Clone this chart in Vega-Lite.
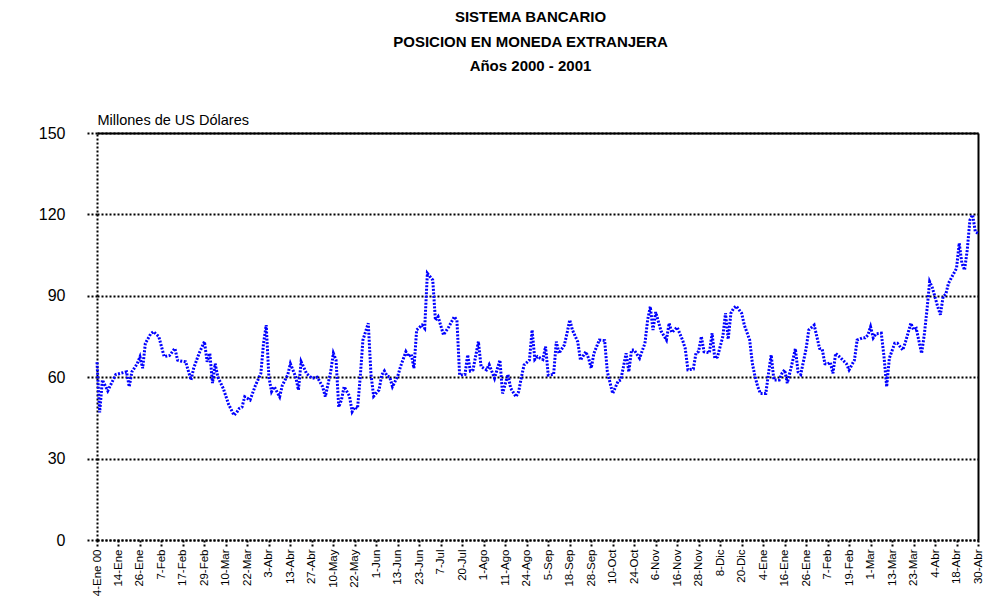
{
  "$schema": "https://vega.github.io/schema/vega-lite/v6.json",
  "autosize": {"type": "none"},
  "padding": {"left": 97, "top": 133, "right": 8, "bottom": 71},
  "width": 881,
  "height": 407,
  "background": "white",
  "config": {"view": {"stroke": null}, "font": "Liberation Sans"},
  "title": {
    "text": ["SISTEMA BANCARIO", "POSICION EN MONEDA EXTRANJERA", "Años 2000 - 2001"],
    "fontSize": 15,
    "fontWeight": "bold",
    "font": "Liberation Sans",
    "color": "black",
    "anchor": "middle",
    "frame": "group",
    "lineHeight": 24.5,
    "offset": 38,
    "dx": -7
  },
  "data": {"values": [
    {"d":0,"v":65.5},{"d":1,"v":47},{"d":2,"v":59},{"d":4,"v":55},{"d":5,"v":57},{"d":7,"v":61},{"d":9,"v":61.5},{"d":11,"v":62},{"d":12,"v":56.5},{"d":13,"v":62},{"d":15,"v":65},{"d":16,"v":67.5},{"d":17,"v":63.3},{"d":18,"v":72.5},{"d":20,"v":76},{"d":21,"v":76.8},{"d":23,"v":75},{"d":24,"v":71.3},{"d":25,"v":67.6},{"d":27,"v":68},{"d":29,"v":70.6},{"d":30,"v":66.3},{"d":31,"v":66},{"d":33,"v":65.7},{"d":35,"v":59},{"d":36,"v":63.3},{"d":38,"v":68.8},{"d":40,"v":73.1},{"d":41,"v":65.7},{"d":42,"v":68.8},{"d":43,"v":57.8},{"d":44,"v":65},{"d":45,"v":60},{"d":47,"v":55.9},{"d":49,"v":50},{"d":51,"v":46},{"d":52,"v":47},{"d":53,"v":48.5},{"d":54,"v":49},{"d":55,"v":52.8},{"d":57,"v":51.6},{"d":59,"v":57},{"d":61,"v":61.4},{"d":62,"v":72.5},{"d":63,"v":79.2},{"d":64,"v":60},{"d":65,"v":54.7},{"d":66,"v":56.5},{"d":68,"v":52.8},{"d":69,"v":57},{"d":71,"v":60.8},{"d":72,"v":65},{"d":74,"v":60},{"d":75,"v":55.3},{"d":76,"v":65.7},{"d":78,"v":61.4},{"d":80,"v":59.6},{"d":82,"v":60},{"d":84,"v":56.5},{"d":85,"v":52.8},{"d":87,"v":62},{"d":88,"v":68.8},{"d":89,"v":66.3},{"d":90,"v":49},{"d":91,"v":51.6},{"d":92,"v":56.5},{"d":94,"v":53},{"d":95,"v":47.3},{"d":96,"v":49},{"d":97,"v":48.5},{"d":98,"v":60},{"d":99,"v":73.7},{"d":101,"v":79.9},{"d":102,"v":61},{"d":103,"v":53},{"d":105,"v":55.3},{"d":106,"v":60.8},{"d":107,"v":62.3},{"d":108,"v":60.5},{"d":109,"v":60},{"d":110,"v":56.5},{"d":112,"v":60.5},{"d":113,"v":63.9},{"d":115,"v":69.4},{"d":116,"v":67.6},{"d":117,"v":68.5},{"d":118,"v":63.3},{"d":119,"v":77.4},{"d":121,"v":79.2},{"d":122,"v":78},{"d":123,"v":98.3},{"d":125,"v":95.8},{"d":126,"v":81},{"d":127,"v":82.3},{"d":129,"v":75.6},{"d":131,"v":78.6},{"d":133,"v":82.3},{"d":134,"v":81},{"d":135,"v":60.8},{"d":137,"v":61},{"d":138,"v":68.2},{"d":139,"v":62.3},{"d":140,"v":62.7},{"d":142,"v":73.1},{"d":143,"v":63.9},{"d":145,"v":62.7},{"d":146,"v":64.6},{"d":148,"v":59.6},{"d":150,"v":66.3},{"d":151,"v":54},{"d":153,"v":61},{"d":154,"v":56},{"d":156,"v":52.8},{"d":157,"v":54.7},{"d":158,"v":60},{"d":159,"v":64.5},{"d":161,"v":66.3},{"d":162,"v":77.4},{"d":163,"v":66.5},{"d":164,"v":67.6},{"d":166,"v":66.5},{"d":167,"v":71.3},{"d":168,"v":60.8},{"d":170,"v":61},{"d":171,"v":73.1},{"d":172,"v":68.8},{"d":174,"v":71.9},{"d":175,"v":76.2},{"d":176,"v":81.1},{"d":177,"v":77.4},{"d":179,"v":73},{"d":180,"v":66.3},{"d":182,"v":69.4},{"d":183,"v":67},{"d":184,"v":63.3},{"d":185,"v":68.8},{"d":187,"v":73.7},{"d":189,"v":73.5},{"d":190,"v":62},{"d":192,"v":54},{"d":194,"v":58.5},{"d":195,"v":59},{"d":197,"v":68.8},{"d":198,"v":62},{"d":199,"v":70},{"d":200,"v":70},{"d":202,"v":67},{"d":204,"v":72.5},{"d":205,"v":81.1},{"d":206,"v":86},{"d":207,"v":77.4},{"d":208,"v":84},{"d":210,"v":77},{"d":212,"v":73.7},{"d":213,"v":79.9},{"d":214,"v":76.5},{"d":216,"v":78.4},{"d":218,"v":73.7},{"d":219,"v":70.6},{"d":220,"v":62.7},{"d":222,"v":63},{"d":223,"v":68.8},{"d":224,"v":69.5},{"d":225,"v":75},{"d":226,"v":69.4},{"d":228,"v":69},{"d":229,"v":76.2},{"d":230,"v":67},{"d":231,"v":67.5},{"d":233,"v":75},{"d":234,"v":83.6},{"d":235,"v":74},{"d":236,"v":83.6},{"d":237,"v":85.4},{"d":238,"v":86.2},{"d":240,"v":83.6},{"d":241,"v":79.2},{"d":243,"v":73.7},{"d":244,"v":65},{"d":245,"v":60.2},{"d":246,"v":56.5},{"d":247,"v":54},{"d":249,"v":54},{"d":250,"v":61.4},{"d":251,"v":68.2},{"d":252,"v":59},{"d":254,"v":59},{"d":255,"v":61.4},{"d":256,"v":62.7},{"d":257,"v":57.8},{"d":259,"v":66},{"d":260,"v":70.5},{"d":261,"v":62},{"d":262,"v":61},{"d":264,"v":70.5},{"d":265,"v":77.4},{"d":267,"v":79.2},{"d":268,"v":75},{"d":269,"v":70.6},{"d":270,"v":70.3},{"d":271,"v":65},{"d":272,"v":64.8},{"d":273,"v":65.5},{"d":274,"v":61.4},{"d":275,"v":68.8},{"d":277,"v":67},{"d":279,"v":65},{"d":280,"v":62.7},{"d":282,"v":66.3},{"d":283,"v":73.7},{"d":285,"v":74.5},{"d":286,"v":74.5},{"d":287,"v":75.5},{"d":288,"v":78.6},{"d":289,"v":74.5},{"d":290,"v":76},{"d":292,"v":76.2},{"d":293,"v":67.6},{"d":294,"v":56.5},{"d":295,"v":67},{"d":297,"v":72.5},{"d":298,"v":72.5},{"d":300,"v":70},{"d":301,"v":73},{"d":303,"v":79.9},{"d":304,"v":77.5},{"d":305,"v":78},{"d":307,"v":68.8},{"d":308,"v":75.6},{"d":309,"v":84.8},{"d":310,"v":95.2},{"d":311,"v":93},{"d":313,"v":86},{"d":314,"v":83},{"d":315,"v":89.7},{"d":316,"v":90.5},{"d":317,"v":94.6},{"d":319,"v":98.3},{"d":320,"v":100.1},{"d":321,"v":109.4},{"d":322,"v":102},{"d":323,"v":99.5},{"d":324,"v":106.9},{"d":325,"v":118},{"d":326,"v":119.8},{"d":327,"v":113.6},{"d":328,"v":113}
  ]},
  "layer": [
    {
      "mark": {"type": "line", "color": "#0000FF", "strokeWidth": 3, "strokeDash": [2, 1.5], "interpolate": "linear"},
      "encoding": {
        "x": {
          "field": "d", "type": "quantitative",
          "scale": {"domain": [0, 328], "nice": false, "zero": false},
          "axis": {
            "orient": "bottom", "title": null, "grid": false,
            "values": [0,8,16,24,32,40,48,56,64,72,80,88,96,104,112,120,128,136,144,152,160,168,176,184,192,200,208,216,224,232,240,248,256,264,272,280,288,296,304,312,320,328],
            "labelExpr": "['4-Ene 00','14-Ene','26-Ene','7-Feb','17-Feb','29-Feb','10-Mar','22-Mar','3-Abr','13-Abr','27-Abr','10-May','22-May','1-Jun','13-Jun','23-Jun','7-Jul','20-Jul','1-Ago','11-Ago','24-Ago','5-Sep','18-Sep','28-Sep','10-Oct','24-Oct','6-Nov','16-Nov','28-Nov','8-Dic','20-Dic','4-Ene','16-Ene','26-Ene','7-Feb','19-Feb','1-Mar','13-Mar','23-Mar','4-Abr','18-Abr','30-Abr'][round(datum.value/8)]",
            "labelAngle": 270, "labelAlign": "right", "labelBaseline": "middle",
            "labelFontSize": 11.5, "labelColor": "black", "labelFont": "Liberation Sans",
            "labelOverlap": false, "labelBound": false, "labelFlush": false,
            "labelPadding": 3,
            "domain": true, "domainColor": "black", "domainWidth": 2, "domainDash": [2, 2],
            "ticks": true, "tickColor": "black", "tickWidth": 2, "tickSize": 6, "tickDash": [2, 2]
          }
        },
        "y": {
          "field": "v", "type": "quantitative",
          "scale": {"domain": [0, 150], "nice": false, "zero": true},
          "axis": {
            "orient": "left",
            "values": [0, 30, 60, 90, 120, 150],
            "title": "Millones de US Dólares",
            "titleAngle": 0, "titleAlign": "left", "titleBaseline": "alphabetic",
            "titleX": 0, "titleY": -9, "titleFontSize": 14.5, "titleFontWeight": "normal",
            "titleColor": "black", "titleFont": "Liberation Sans",
            "labelFontSize": 16, "labelColor": "black", "labelFont": "Liberation Sans",
            "labelPadding": 22,
            "grid": true, "gridColor": "black", "gridWidth": 2, "gridDash": [2, 2], "gridOpacity": 1,
            "domain": true, "domainColor": "black", "domainWidth": 2, "domainDash": [2, 2],
            "ticks": true, "tickColor": "black", "tickWidth": 2, "tickSize": 10, "tickDash": [2, 2]
          }
        }
      }
    },
    {
      "mark": {"type": "line", "strokeOpacity": 0},
      "encoding": {
        "x": {
          "field": "d", "type": "quantitative",
          "axis": {"orient": "top", "title": null, "labels": false, "ticks": false, "grid": false, "domain": true, "domainColor": "black", "domainWidth": 2}
        },
        "y": {
          "field": "v", "type": "quantitative",
          "axis": {"orient": "right", "title": null, "labels": false, "ticks": false, "grid": false, "domain": true, "domainColor": "black", "domainWidth": 2}
        }
      }
    }
  ],
  "resolve": {"axis": {"x": "independent", "y": "independent"}}
}
